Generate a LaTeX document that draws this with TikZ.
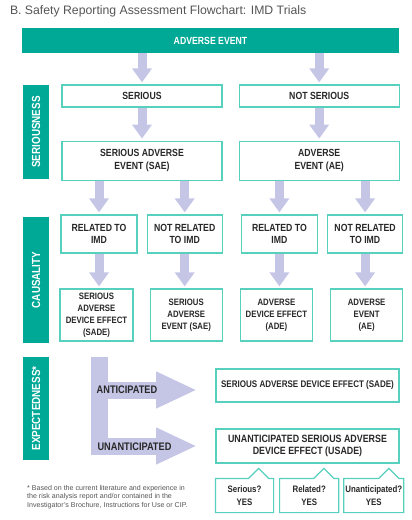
\documentclass[tikz,border=0pt]{standalone}
\usepackage{fontspec}
\setmainfont{Liberation Sans}
\newfontfamily\condfont[FakeStretch=0.84]{Liberation Sans}
\usetikzlibrary{arrows.meta,positioning}
\definecolor{aeteal}{RGB}{0,168,150}
\definecolor{mint}{RGB}{88,208,190}
\definecolor{lav}{RGB}{197,198,230}
\definecolor{ink}{RGB}{40,40,40}
\definecolor{greytext}{RGB}{85,85,85}
\newcommand{\cf}[2]{\condfont\bfseries\fontsize{#1}{#2}\selectfont}
\tikzset{
	% standard arrow tip
	>={Triangle[width=19bp,length=14bp]},
	% box style
	box/.style={
		rectangle,
		draw=mint, line width=1.2bp,
		fill=white, text=ink,
		align=center,
		inner sep=1bp,
		font={\cf{10.4}{12.8}}
	},
	% lower box style
	lowbox/.style={
		box,
		minimum width=72bp,
		minimum height=52bp,
		font={\cf{9.3}{12.2}}
	},
	% answer box style
	yesbox/.style={
		box,
		draw=none,
		minimum height=33bp,
		font={\cf{9.4}{12.5}}
	},
	% side label style
	sidebar/.style={
		rectangle,
		fill=aeteal, text=white,
		rotate=90,
		minimum height=26bp,
		font={\cf{11.8}{14}}
	},
	% arrow style
	arrow/.style={
		->,
		draw=lav,
		line width=9bp,
		shorten >=2bp,
	},
	% wide arrow style
	widearrow/.style={
		-{Triangle[width=34bp,length=41bp]},
		draw=lav,
		line width=17bp,
	}
}

\begin{document}
\begin{tikzpicture}[x=1bp, y=-1bp, node distance=16bp]
	\useasboundingbox (0,0) rectangle (411,520);
	\node[anchor=west, text=greytext, font=\fontsize{12.3}{14}\selectfont] (title) at (6.5,11.5)
		{B. Safety Reporting Assessment Flowchart: IMD Trials};
	\node[box, fill=aeteal, draw=aeteal, text=white, minimum width=375bp, minimum height=23bp] (event) at (210.5,40.5)
		{ADVERSE EVENT};

	% seriousness
	\node[sidebar, minimum width=94bp] (seriousness) at (36,132) {SERIOUSNESS};
	\node[box, minimum width=160bp, minimum height=22bp] (serious) at (142,96)
		{SERIOUS};
	\node[box, minimum width=160bp, minimum height=22bp, right=of serious] (notserious)
		{NOT SERIOUS};
	\node[box, minimum width=160bp, minimum height=39bp, below=33bp of serious] (sae)
		{SERIOUS ADVERSE \\ EVENT (SAE)};
	\node[box, minimum width=160bp, minimum height=39bp, right=of sae] (ae)
		{ADVERSE \\ EVENT (AE)};

	% causality
	\node[sidebar, minimum width=126bp] (causality) at (36,280) {CAUSALITY};
	\node[box, minimum width=76bp, minimum height=38bp] (relA) at (99,234)
		{RELATED TO \\ IMD};
	\node[box, minimum width=75bp, minimum height=38bp, right=9bp of relA] (notrelA)
		{NOT RELATED \\ TO IMD};
	\node[box, minimum width=76bp, minimum height=38bp, right=18bp of notrelA] (relB)
		{RELATED TO \\ IMD};
	\node[box, minimum width=75bp, minimum height=38bp, right=9bp of relB] (notrelB)
		{NOT RELATED \\ TO IMD};
	\node[lowbox, minimum width=73bp] (sadeA) at (96.5,315)
		{SERIOUS \\ ADVERSE \\ DEVICE EFFECT \\ (SADE)};
	\node[lowbox, right=of sadeA] (saeB)
		{SERIOUS \\ ADVERSE \\ EVENT (SAE)};
	\node[lowbox, right=17bp of saeB] (adeA)
		{ADVERSE \\ DEVICE EFFECT \\ (ADE)};
	\node[lowbox, right=17bp of adeA] (aeB)
		{ADVERSE \\ EVENT \\ (AE)};

	% expectedness
	\node[sidebar, minimum width=103bp] (expectedness) at (36,408.5) {EXPECTEDNESS*};
	\node[box, minimum width=183bp, minimum height=33bp, font={\cf{9.6}{12}}] (sade) at (307.5,385.5)
		{SERIOUS ADVERSE DEVICE EFFECT (SADE)};
	\node[box, minimum width=183bp, minimum height=34bp, font={\cf{10.6}{12.8}}] (usade) at (307.5,446)
		{UNANTICIPATED SERIOUS ADVERSE \\ DEVICE EFFECT (USADE)};
	\coordinate (turn) at (99.5,357);
	\coordinate (antip) at (197,390);
	\coordinate (unantip) at (197,446);
	\draw[widearrow] (turn) |- (unantip);
	\draw[widearrow] (turn |- antip) -- (antip);
	\node[text=ink, font={\cf{11}{13}}] (anticipated) at (127,390) {ANTICIPATED};
	\node[text=ink, font={\cf{11}{13}}] (unanticipated) at (134.5,447) {UNANTICIPATED};

	% answers
	\node[yesbox, minimum width=57bp] (yesA) at (244.5,495.5) {Serious? \\ YES};
	\node[yesbox, minimum width=58bp, right=6bp of yesA] (yesB) {Related? \\ YES};
	\node[yesbox, minimum width=58bp, right=5bp of yesB] (yesC) {Unanticipated? \\ YES};
	\foreach \c in {yesA,yesB,yesC}
		\draw[draw=mint, line width=1.2bp] (\c.north east) -- (\c.south east) -- (\c.south west)
			-- (\c.north west) -- ([xshift=-25bp]\c.north east) -- ++(10,-10) -- ++(10,10) -- cycle;

	\node[anchor=north west, align=left, inner sep=0pt, text=greytext, font=\fontsize{7.1}{8.6}\selectfont] (note) at (27,485)
		{* Based on the current literature and experience in \\
		 the risk analysis report and/or contained in the \\
		 Investigator's Brochure, Instructions for Use or CIP.};

	\draw[arrow] (event.south -| serious) -- (serious.north);
	\draw[arrow] (event.south -| notserious) -- (notserious.north);
	\draw[arrow] (serious) -- (sae);
	\draw[arrow] (notserious) -- (ae);
	\draw[arrow] (sae.south -| relA) -- (relA.north);
	\draw[arrow] (sae.south -| notrelA) -- (notrelA.north);
	\draw[arrow] (ae.south -| relB) -- (relB.north);
	\draw[arrow] (ae.south -| notrelB) -- (notrelB.north);
	\draw[arrow] (relA.south) -- (relA.south |- sadeA.north);
	\draw[arrow] (notrelA.south) -- (notrelA.south |- saeB.north);
	\draw[arrow] (relB.south) -- (relB.south |- adeA.north);
	\draw[arrow] (notrelB.south) -- (notrelB.south |- aeB.north);
\end{tikzpicture}
\end{document}
